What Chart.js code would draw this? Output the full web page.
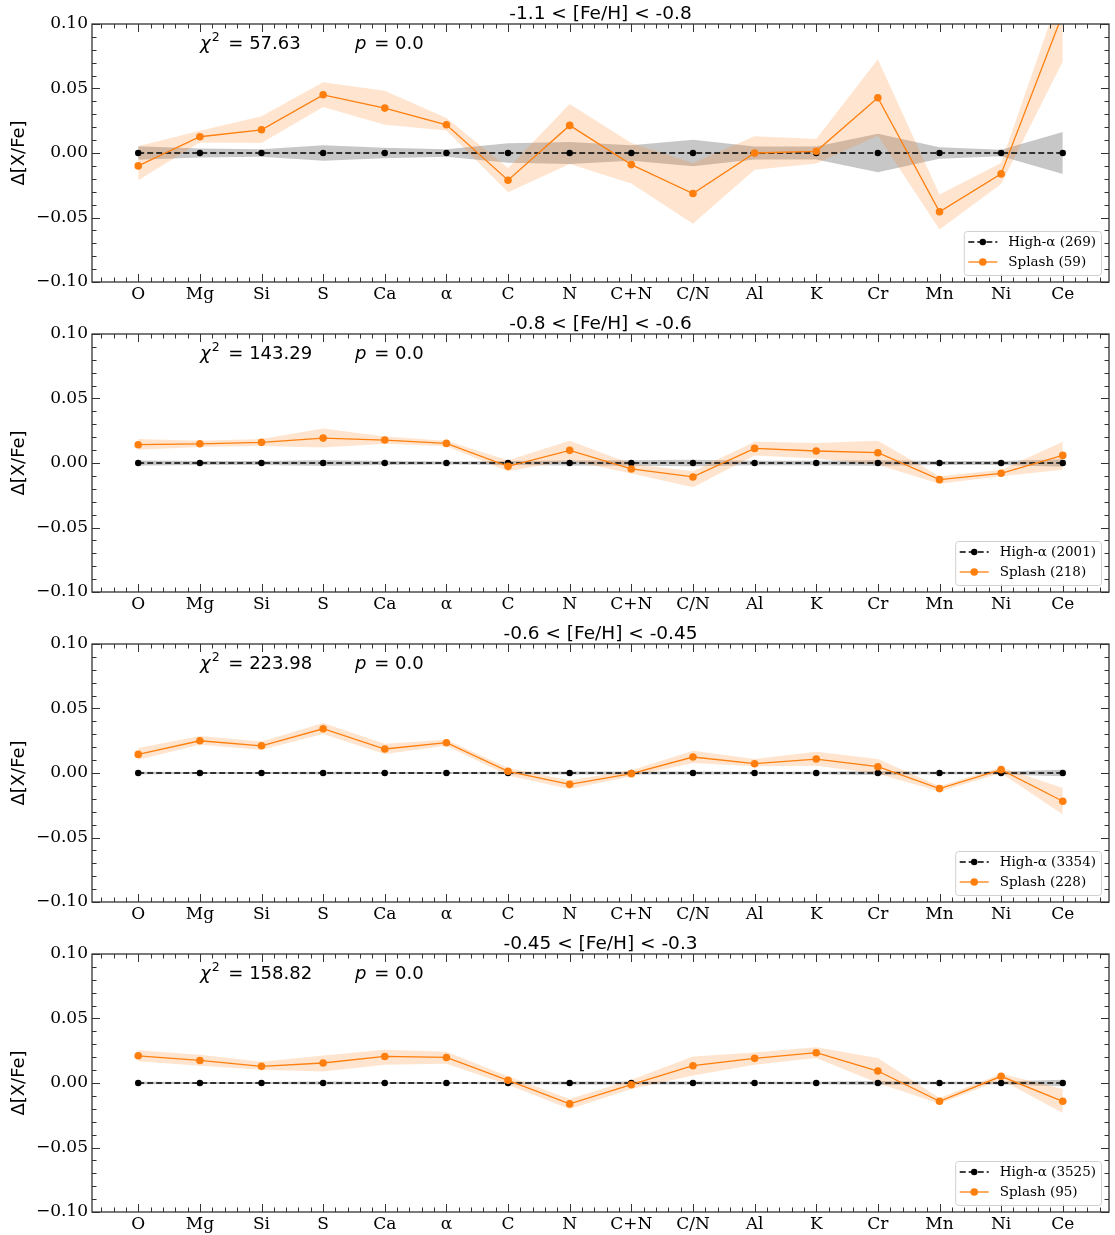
<!DOCTYPE html>
<html><head><meta charset="utf-8">
<script src="https://cdn.jsdelivr.net/npm/chart.js@4/dist/chart.umd.min.js"></script>
<style>
html,body{margin:0;padding:0;background:#fff;}
body{width:1115px;height:1235px;overflow:hidden;position:relative;}
canvas{position:absolute;left:0;}
</style></head>
<body>
<script>
// ---------------- data ----------------
const elements = ['O','Mg','Si','S','Ca','α','C','N','C+N','C/N','Al','K','Cr','Mn','Ni','Ce'];
const panelTitles = ['-1.1 < [Fe/H] < -0.8','-0.8 < [Fe/H] < -0.6','-0.6 < [Fe/H] < -0.45','-0.45 < [Fe/H] < -0.3'];
const chi2Values = ['57.63','143.29','223.98','158.82'];
const pValues = ['0.0','0.0','0.0','0.0'];
const highAlphaCounts = [269, 2001, 3354, 3525];
const splashCounts = [59, 218, 228, 95];
const yTicks = [-0.10, -0.05, 0.00, 0.05, 0.10];

const highAlpha = [0,0,0,0,0,0,0,0,0,0,0,0,0,0,0,0];

const splash1   = [-0.0100, 0.0126, 0.0180, 0.0451, 0.0348, 0.0219, -0.0211, 0.0214, -0.0090, -0.0314, 0.0000, 0.0013, 0.0428, -0.0456, -0.0162, 0.1080];
const splashHi1 = [ 0.0052, 0.0173, 0.0284, 0.0549, 0.0482, 0.0271, -0.0116, 0.0379,  0.0077, -0.0077, 0.0129, 0.0108, 0.0727, -0.0322, -0.0077, 0.1300];
const splashLo1 = [-0.0211, 0.0082, 0.0077, 0.0356, 0.0219, 0.0175, -0.0304, -0.0085, -0.0237, -0.0549, -0.0129, -0.0082, 0.0134, -0.0593, -0.0240, 0.0709];
const highErr1  = [0.0052, 0.0035, 0.0030, 0.0060, 0.0040, 0.0030, 0.0075, 0.0085, 0.0060, 0.0103, 0.0050, 0.0050, 0.0149, 0.0044, 0.0026, 0.0162];

const splash2   = [0.0142, 0.0149, 0.0160, 0.0193, 0.0178, 0.0152, -0.0026, 0.0098, -0.0046, -0.0108, 0.0113, 0.0093, 0.0080, -0.0129, -0.0080, 0.0059];
const splashHi2 = [0.0186, 0.0173, 0.0186, 0.0268, 0.0206, 0.0173,  0.0021, 0.0173, -0.0005, -0.0064, 0.0165, 0.0155, 0.0173, -0.0103, -0.0052, 0.0165];
const splashLo2 = [0.0103, 0.0124, 0.0131, 0.0121, 0.0149, 0.0129, -0.0064, 0.0021, -0.0082, -0.0188, 0.0059, 0.0034, -0.0013, -0.0160, -0.0103, -0.0052];
const highErr2  = [0.0020, 0.0015, 0.0015, 0.0022, 0.0015, 0.0012, 0.0015, 0.0020, 0.0022, 0.0025, 0.0018, 0.0018, 0.0022, 0.0015, 0.0015, 0.0030];

const splash3   = [0.0144, 0.0250, 0.0211, 0.0343, 0.0186, 0.0235, 0.0013, -0.0088, -0.0005, 0.0124, 0.0072, 0.0108, 0.0049, -0.0121, 0.0026, -0.0219];
const splashHi3 = [0.0193, 0.0286, 0.0245, 0.0387, 0.0227, 0.0258, 0.0039, -0.0057, 0.0021, 0.0173, 0.0108, 0.0165, 0.0108, -0.0103, 0.0044, -0.0116];
const splashLo3 = [0.0103, 0.0219, 0.0180, 0.0302, 0.0147, 0.0211, -0.0020, -0.0124, -0.0026, 0.0077, 0.0052, 0.0057, -0.0005, -0.0144, 0.0000, -0.0322];
const highErr3  = [0.0010, 0.0008, 0.0008, 0.0010, 0.0008, 0.0007, 0.0010, 0.0012, 0.0012, 0.0012, 0.0010, 0.0010, 0.0015, 0.0010, 0.0012, 0.0025];

const splash4   = [0.0211, 0.0175, 0.0129, 0.0155, 0.0206, 0.0198, 0.0021, -0.0162, -0.0013, 0.0134, 0.0191, 0.0235, 0.0093, -0.0142, 0.0052, -0.0142];
const splashHi4 = [0.0253, 0.0219, 0.0165, 0.0214, 0.0258, 0.0242, 0.0052, -0.0124, 0.0026, 0.0206, 0.0237, 0.0278, 0.0193, -0.0116, 0.0072, -0.0046];
const splashLo4 = [0.0168, 0.0134, 0.0103, 0.0090, 0.0142, 0.0149, -0.0013, -0.0201, -0.0046, 0.0059, 0.0142, 0.0193, 0.0000, -0.0160, 0.0026, -0.0232];
const highErr4  = [0.0010, 0.0008, 0.0008, 0.0012, 0.0008, 0.0007, 0.0010, 0.0012, 0.0012, 0.0012, 0.0010, 0.0010, 0.0015, 0.0010, 0.0012, 0.0025];

const panels = [
  {splash: splash1, hi: splashHi1, lo: splashLo1, err: highErr1},
  {splash: splash2, hi: splashHi2, lo: splashLo2, err: highErr2},
  {splash: splash3, hi: splashHi3, lo: splashLo3, err: highErr3},
  {splash: splash4, hi: splashHi4, lo: splashLo4, err: highErr4},
];

// ---------------- style ----------------
const ORANGE = '#ff7f0e';
const ORANGE_BAND = 'rgba(255,127,14,0.2)';
const GRAY_BAND = 'rgba(0,0,0,0.22)';
const FRAME = '#333333';
const SERIF = '"DejaVu Serif", serif';
const SANS = '"DejaVu Sans", sans-serif';
const PANEL_H = 310;
const PLOT_TOP = 24, PLOT_BOTTOM = 282, PLOT_LEFT = 92, PLOT_RIGHT = 1109;

const pts = arr => arr.map((v, i) => ({x: i, y: v}));
const fmtY = v => { const s = Math.abs(v).toFixed(2); return (v < -1e-9 ? '\u2212' : '') + s; };

function decorPlugin(pi) {
  return {
    id: 'decor' + pi,
    afterDatasetsDraw(chart) {
      const {ctx, chartArea: a, scales: {x, y}} = chart;
      ctx.save();
      ctx.strokeStyle = FRAME;
      ctx.lineWidth = 1;
      ctx.beginPath();
      for (let v = -0.6; v <= 15.61; v += 0.2) {
        const r = Math.round(v * 5) / 5;
        const px = Math.round(x.getPixelForValue(r)) + 0.5;
        const isMajor = Math.abs(r - Math.round(r)) < 1e-6 && r >= 0 && r <= 15;
        const len = isMajor ? 8 : 4.5;
        ctx.moveTo(px, a.bottom); ctx.lineTo(px, a.bottom - len);
        ctx.moveTo(px, a.top); ctx.lineTo(px, a.top + len);
      }
      for (let k = -10; k <= 10; k++) {
        const val = k / 100;
        const py = Math.round(y.getPixelForValue(val)) + 0.5;
        const isMajor = k % 5 === 0;
        const len = isMajor ? 8 : 4.5;
        ctx.moveTo(a.left, py); ctx.lineTo(a.left + len, py);
        ctx.moveTo(a.right, py); ctx.lineTo(a.right - len, py);
      }
      ctx.stroke();
      ctx.lineWidth = 1.3;
      ctx.strokeStyle = FRAME;
      ctx.strokeRect(a.left, a.top, a.right - a.left, a.bottom - a.top);
      ctx.restore();
    },
    afterDraw(chart) {
      const {ctx, chartArea: a} = chart;
      ctx.save();
      // title
      ctx.fillStyle = '#000';
      ctx.font = '18.5px ' + SANS;
      ctx.textAlign = 'center';
      ctx.textBaseline = 'alphabetic';
      ctx.fillText(panelTitles[pi], (a.left + a.right) / 2, 18.5);
      // chi2 / p annotation
      ctx.textAlign = 'left';
      let xx = 200;
      const base = 49;
      ctx.font = 'italic 18px ' + SANS;
      ctx.fillText('χ', xx, base);
      xx += ctx.measureText('χ').width + 1;
      ctx.font = '12.5px ' + SANS;
      ctx.fillText('2', xx, base - 8.5);
      xx += ctx.measureText('2').width;
      ctx.font = '18px ' + SANS;
      ctx.fillText(' = ' + chi2Values[pi], xx + 3, base);
      ctx.font = 'italic 18px ' + SANS;
      ctx.fillText('p', 355, base);
      const pw = ctx.measureText('p').width;
      ctx.font = '18px ' + SANS;
      ctx.fillText(' = ' + pValues[pi], 355 + pw + 2, base);

      // legend
      ctx.font = '13.5px ' + SERIF;
      const labels = ['High-α (' + highAlphaCounts[pi] + ')', 'Splash (' + splashCounts[pi] + ')'];
      const tw = Math.max(...labels.map(l => ctx.measureText(l).width));
      const boxW = 4.5 + 29 + 11 + tw + 5;
      const boxH = 44;
      const bx = a.right - 8 - boxW;
      const by = a.bottom - 7 - boxH;
      ctx.beginPath();
      ctx.roundRect(bx + 0.5, by + 0.5, boxW, boxH, 3);
      ctx.fillStyle = 'rgba(255,255,255,0.8)';
      ctx.fill();
      ctx.strokeStyle = '#d0d0d0';
      ctx.lineWidth = 1;
      ctx.stroke();
      const rows = [by + 11, by + 31];
      const sx0 = bx + 4.5, sx1 = sx0 + 29;
      ctx.strokeStyle = '#000'; ctx.lineWidth = 1.5; ctx.setLineDash([6, 3]);
      ctx.beginPath(); ctx.moveTo(sx0, rows[0]); ctx.lineTo(sx1, rows[0]); ctx.stroke();
      ctx.setLineDash([]);
      ctx.fillStyle = '#000';
      ctx.beginPath(); ctx.arc((sx0 + sx1) / 2, rows[0], 3.2, 0, Math.PI * 2); ctx.fill();
      ctx.strokeStyle = ORANGE; ctx.lineWidth = 1.3;
      ctx.beginPath(); ctx.moveTo(sx0, rows[1]); ctx.lineTo(sx1, rows[1]); ctx.stroke();
      ctx.fillStyle = ORANGE;
      ctx.beginPath(); ctx.arc((sx0 + sx1) / 2, rows[1], 3.8, 0, Math.PI * 2); ctx.fill();
      ctx.fillStyle = '#000';
      ctx.textBaseline = 'middle';
      ctx.fillText(labels[0], sx1 + 11, rows[0]);
      ctx.fillText(labels[1], sx1 + 11, rows[1]);
      ctx.restore();
    }
  };
}

panels.forEach((p, pi) => {
  const top = pi * PANEL_H;
  const h = Math.min(PANEL_H, 1235 - top);
  const cv = document.createElement('canvas');
  cv.width = 1115; cv.height = h;
  cv.style.top = top + 'px';
  cv.style.width = '1115px'; cv.style.height = h + 'px';
  document.body.appendChild(cv);

  const hiHigh = highAlpha.map((v, i) => v + p.err[i]);
  const loHigh = highAlpha.map((v, i) => v - p.err[i]);

  new Chart(cv.getContext('2d'), {
    type: 'line',
    data: {
      datasets: [
        {label: 'Splash', data: pts(p.splash), borderColor: ORANGE, backgroundColor: ORANGE,
         borderWidth: 1.3, pointRadius: 3.8, pointBorderWidth: 0, pointBackgroundColor: ORANGE,
         fill: false, order: 0, tension: 0},
        {label: 'High-α', data: pts(highAlpha), borderColor: '#000', backgroundColor: '#000',
         borderWidth: 1.5, borderDash: [6, 3], pointRadius: 3.2, pointBorderWidth: 0,
         pointBackgroundColor: '#000', fill: false, order: 1, tension: 0},
        {label: 'splashHi', data: pts(p.hi), borderColor: 'rgba(0,0,0,0)', borderWidth: 0,
         pointRadius: 0, backgroundColor: ORANGE_BAND, fill: '+1', order: 2, tension: 0},
        {label: 'splashLo', data: pts(p.lo), borderColor: 'rgba(0,0,0,0)', borderWidth: 0,
         pointRadius: 0, fill: false, order: 3, tension: 0},
        {label: 'highHi', data: pts(hiHigh), borderColor: 'rgba(0,0,0,0)', borderWidth: 0,
         pointRadius: 0, backgroundColor: GRAY_BAND, fill: '+1', order: 4, tension: 0},
        {label: 'highLo', data: pts(loHigh), borderColor: 'rgba(0,0,0,0)', borderWidth: 0,
         pointRadius: 0, fill: false, order: 5, tension: 0},
      ]
    },
    options: {
      responsive: false,
      animation: false,
      devicePixelRatio: 1,
      events: [],
      layout: {padding: {top: PLOT_TOP, right: 1115 - PLOT_RIGHT, left: 0, bottom: 0}},
      plugins: {legend: {display: false}, tooltip: {enabled: false}, title: {display: false}},
      scales: {
        x: {
          type: 'linear', min: -0.75, max: 15.75,
          grid: {display: false, drawTicks: false},
          border: {display: false},
          afterBuildTicks: s => { s.ticks = elements.map((_, i) => ({value: i})); },
          afterFit: s => { s.height = h - PLOT_BOTTOM; },
          ticks: {autoSkip: false, maxRotation: 0, padding: 2, color: '#000',
                  font: {family: SERIF, size: 17},
                  callback: v => elements[Math.round(v)]}
        },
        y: {
          type: 'linear', min: -0.1, max: 0.1,
          grid: {display: false, drawTicks: false},
          border: {display: false},
          afterBuildTicks: s => { s.ticks = yTicks.map(v => ({value: v})); },
          afterFit: s => { s.width = PLOT_LEFT; },
          ticks: {padding: 4, color: '#000', font: {family: SERIF, size: 17},
                  callback: v => fmtY(v)},
          title: {display: true, text: 'Δ[X/Fe]', color: '#000',
                  font: {family: SANS, size: 18}, padding: {top: 9, bottom: 0}}
        }
      }
    },
    plugins: [decorPlugin(pi)]
  });
});
</script>
</body></html>
